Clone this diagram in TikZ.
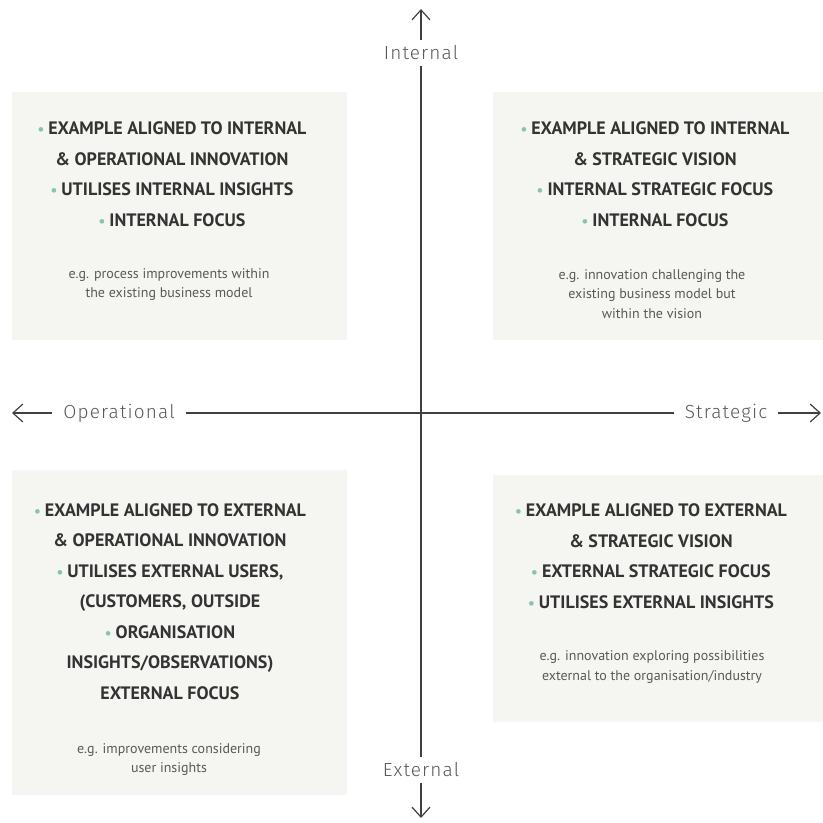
\documentclass[tikz,border=0pt]{standalone}
\usepackage{fontspec}
\setmainfont{PT Sans}
\newfontfamily\axisfont{Fira Sans}[UprightFont=* Light, LetterSpace=6]
\usetikzlibrary{positioning}
\usetikzlibrary{arrows.meta}
\definecolor{quadfill}{HTML}{F5F6F1}
\definecolor{dotteal}{HTML}{86C3B4}
\definecolor{inkgrey}{HTML}{333333}
\newcommand{\bul}{{\color{dotteal}\fontsize{15}{15}\selectfont\textbullet}\hspace{4pt}}

\begin{document}
\begin{tikzpicture}[x=1pt, y=-1pt,
  quad/.style = {fill=quadfill, anchor=north west, inner sep=0pt},
  head/.style = {align=center, text=inkgrey, font=\bfseries\fontsize{18}{30.5}\selectfont},
  note/.style = {align=center, text=black!65, font=\fontsize{14}{19.5}\selectfont},
  axislabel/.style = {text=black!65, font=\axisfont\fontsize{19}{19}\selectfont, inner xsep=11pt, inner ysep=6pt},
  axis/.style = {draw=black!75, line width=1.2pt},
  tip/.style = {-{Straight Barb[length=10pt,width=18pt]}}]
  \useasboundingbox (0,0) rectangle (823,823);
  % quadrant boxes
  \node[quad, minimum width=335pt, minimum height=248pt](tl) at (12,92){};
  \node[quad, minimum width=330pt, minimum height=248pt](tr) at (493,92){};
  \node[quad, minimum width=335pt, minimum height=325pt](bl) at (12,470){};
  \node[quad, minimum width=330pt, minimum height=247pt](br) at (493,475){};
  % axes
  \node[axislabel](int) at (421,53){Internal};
  \node[axislabel](ext) at (421,770){External};
  \node[axislabel](op) at (119,413){Operational};
  \node[axislabel](str) at (726,413){Strategic};
  \coordinate (up) at (421,9);
  \coordinate (down) at (421,818);
  \coordinate (left) at (12,413);
  \coordinate (right) at (821,413);
  \draw[axis] (int) -- (ext) (op) -- (str);
  \draw[axis, tip] (int) -- (up);
  \draw[axis, tip] (ext) -- (down);
  \draw[axis, tip] (op) -- (left);
  \draw[axis, tip] (str) -- (right);
  % internal / operational
  \node[head](tlhead) at (172,174){\bul EXAMPLE ALIGNED TO INTERNAL\\ \& OPERATIONAL INNOVATION\\ \bul UTILISES INTERNAL INSIGHTS\\ \bul INTERNAL FOCUS};
  \node[note](tlnote) at (169,284.5){e.g. process improvements within\\ the existing business model};
  % internal / strategic
  \node[head](trhead) at (655,174){\bul EXAMPLE ALIGNED TO INTERNAL\\ \& STRATEGIC VISION\\ \bul INTERNAL STRATEGIC FOCUS\\ \bul INTERNAL FOCUS};
  \node[note](trnote) at (652,294){e.g. innovation challenging the\\ existing business model but\\ within the vision};
  % external / operational
  \node[head](blhead) at (170,601.5){\bul EXAMPLE ALIGNED TO EXTERNAL\\ \& OPERATIONAL INNOVATION\\ \bul UTILISES EXTERNAL USERS,\\ (CUSTOMERS, OUTSIDE\\ \bul ORGANISATION\\ INSIGHTS/OBSERVATIONS)\\ EXTERNAL FOCUS};
  \node[note](blnote) at (169,759.5){e.g. improvements considering\\ user insights};
  % external / strategic
  \node[head](brhead) at (651,556){\bul EXAMPLE ALIGNED TO EXTERNAL\\ \& STRATEGIC VISION\\ \bul EXTERNAL STRATEGIC FOCUS\\ \bul UTILISES EXTERNAL INSIGHTS};
  \node[note](brnote) at (652,667){e.g. innovation exploring possibilities\\ external to the organisation/industry};
\end{tikzpicture}
\end{document}
